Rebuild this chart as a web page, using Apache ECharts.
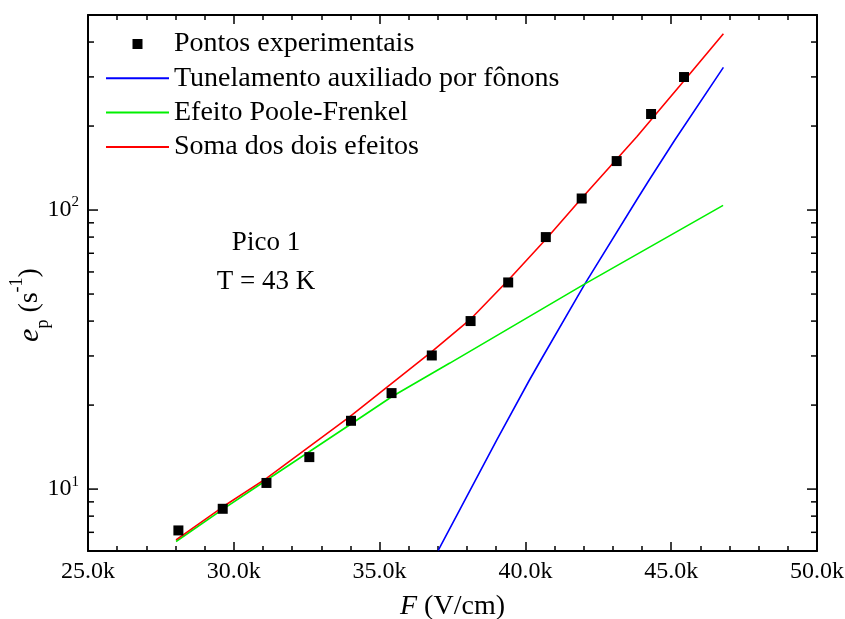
<!DOCTYPE html>
<html>
<head>
<meta charset="utf-8">
<script src="https://cdn.jsdelivr.net/npm/echarts@6/dist/echarts.min.js"></script>
<style>
html, body { margin: 0; padding: 0; background: #fff; }
#chart { width: 845px; height: 619px; }
</style>
</head>
<body>
<div id="chart"></div>
<script>
// pontos experimentais (F em V/cm, e_p em s^-1)
var expF = [28100, 29620, 31120, 32590, 34020, 35410, 36790, 38120, 39410, 40700, 41930, 43130, 44310, 45440];
var expE = [7.11, 8.50, 10.52, 13.02, 17.57, 22.08, 30.12, 40.01, 55.02, 80.0, 110.0, 149.8, 220.9, 299.7];

// tunelamento auxiliado por fonons
var tunF = [37010, 39020, 40130, 40560, 42040, 43820, 44250, 45130, 46790];
var tunE = [6.03, 15.02, 24.5, 29.38, 54.4, 108.9, 128.4, 178.6, 324.4];

// efeito Poole-Frenkel
var pfF = [28020, 29630, 31140, 33980, 35430, 37410, 42040, 46780];
var pfE = [6.49, 8.48, 10.80, 17.0, 21.47, 28.29, 54.4, 103.9];

// soma dos dois efeitos
var sumF = [28020, 29640, 31130, 33980, 36790, 38100, 39410, 40710, 41930, 43820, 45470, 46790];
var sumE = [6.58, 8.66, 10.95, 18.20, 31.12, 40.45, 56.0, 78.7, 110.2, 183.0, 293.0, 428.5];

// eixos
var xTickValues = [25000, 30000, 35000, 40000, 45000, 50000];
var xTickLabels = ['25.0k', '30.0k', '35.0k', '40.0k', '45.0k', '50.0k'];
var yMajorTicks = [10, 100];
var yMajorLabels = ['1', '2'];
var yMinorTicks = [7, 8, 9, 20, 30, 40, 50, 60, 70, 80, 90, 200, 300, 400];

var serif = "'Liberation Serif', 'Times New Roman', serif";

function zip(a, b) {
    return a.map(function (v, i) { return [v, b[i]]; });
}

// marcas do eixo y (esquerda e direita, para dentro)
function tickRenderer(len) {
    return function (params, api) {
        var cs = params.coordSys;
        var y = api.coord([api.value(0), api.value(1)])[1];
        var st = { stroke: '#000', lineWidth: 1.5 };
        return {
            type: 'group',
            children: [
                { type: 'line', shape: { x1: cs.x, y1: y, x2: cs.x + len, y2: y }, style: st },
                { type: 'line', shape: { x1: cs.x + cs.width, y1: y, x2: cs.x + cs.width - len, y2: y }, style: st }
            ]
        };
    };
}

var chart = echarts.init(document.getElementById('chart'));

var xAxisBase = {
    type: 'value',
    min: 25000,
    max: 50000,
    interval: 5000,
    axisLine: { lineStyle: { color: '#000', width: 2 } },
    axisTick: { inside: true, length: 9, lineStyle: { color: '#000', width: 1.5 } },
    minorTick: { show: true, splitNumber: 5, length: 5, lineStyle: { color: '#000', width: 1.5 } },
    splitLine: { show: false }
};

var noSymbol = { opacity: 0 };

chart.setOption({
    animation: false,
    backgroundColor: '#fff',
    grid: { left: 88, right: 28, top: 15, bottom: 68, containLabel: false, outerBoundsMode: 'none' },
    legend: {
        orient: 'vertical',
        left: 105,
        top: 30,
        padding: 0,
        itemWidth: 63,
        itemHeight: 10,
        itemGap: 6.3,
        textStyle: { fontFamily: serif, fontSize: 28, color: '#000' },
        data: [
            { name: 'Pontos experimentais', icon: 'path://M0,0H10V10H0Z' },
            { name: 'Tunelamento auxiliado por fônons', itemStyle: noSymbol },
            { name: 'Efeito Poole-Frenkel', itemStyle: noSymbol },
            { name: 'Soma dos dois efeitos', itemStyle: noSymbol }
        ]
    },
    xAxis: [
        Object.assign({}, xAxisBase, {
            position: 'bottom',
            name: '{i|F} (V/cm)',
            nameLocation: 'middle',
            nameGap: 42,
            nameTextStyle: {
                fontFamily: serif, fontSize: 28, color: '#000',
                rich: { i: { fontFamily: serif, fontSize: 28, fontStyle: 'italic', color: '#000' } }
            },
            axisLabel: {
                margin: 9,
                fontFamily: serif,
                fontSize: 24,
                color: '#000',
                formatter: function (v) {
                    var i = xTickValues.indexOf(v);
                    return i >= 0 ? xTickLabels[i] : '';
                }
            }
        }),
        Object.assign({}, xAxisBase, {
            position: 'top',
            axisLabel: { show: false }
        })
    ],
    yAxis: [
        {
            type: 'log',
            logBase: 10,
            min: 6,
            max: 500,
            position: 'left',
            axisLine: { lineStyle: { color: '#000', width: 2 } },
            axisTick: { show: false },
            splitLine: { show: false },
            axisLabel: {
                margin: 9,
                formatter: function (v) {
                    var i = yMajorTicks.indexOf(v);
                    return i >= 0 ? '{b|10}{s|' + yMajorLabels[i] + '}' : '';
                },
                rich: {
                    b: { fontFamily: serif, fontSize: 24, color: '#000', lineHeight: 30 },
                    s: { fontFamily: serif, fontSize: 15, color: '#000', lineHeight: 15, verticalAlign: 'top' }
                }
            }
        },
        {
            type: 'log',
            logBase: 10,
            min: 6,
            max: 500,
            position: 'right',
            axisLine: { lineStyle: { color: '#000', width: 2 } },
            axisTick: { show: false },
            axisLabel: { show: false },
            splitLine: { show: false }
        }
    ],
    graphic: [
        {
            type: 'text',
            x: 30,
            y: 305,
            rotation: Math.PI / 2,
            style: {
                text: '{i|e}{sub|p} (s{sup|-1})',
                align: 'center',
                verticalAlign: 'middle',
                fill: '#000',
                rich: {
                    i: { fontFamily: serif, fontSize: 30, fontStyle: 'italic', lineHeight: 44, fill: '#000' },
                    sub: { fontFamily: serif, fontSize: 18, lineHeight: 18, verticalAlign: 'bottom', fill: '#000' },
                    sup: { fontFamily: serif, fontSize: 18, lineHeight: 18, verticalAlign: 'top', fill: '#000' }
                },
                font: '28px ' + serif
            }
        },
        {
            type: 'text',
            x: 266,
            y: 243,
            style: { text: 'Pico 1', font: '27px ' + serif, fill: '#000', align: 'center', verticalAlign: 'middle' }
        },
        {
            type: 'text',
            x: 266,
            y: 282,
            style: { text: 'T = 43 K', font: '27px ' + serif, fill: '#000', align: 'center', verticalAlign: 'middle' }
        }
    ],
    series: [
        {
            name: 'Tunelamento auxiliado por fônons',
            type: 'line',
            symbol: 'none',
            data: zip(tunF, tunE),
            lineStyle: { color: '#0000ff', width: 1.6 },
            itemStyle: { color: '#0000ff' },
            z: 2
        },
        {
            name: 'Efeito Poole-Frenkel',
            type: 'line',
            symbol: 'none',
            data: zip(pfF, pfE),
            lineStyle: { color: '#00f000', width: 1.6 },
            itemStyle: { color: '#00f000' },
            z: 2
        },
        {
            name: 'Soma dos dois efeitos',
            type: 'line',
            symbol: 'none',
            data: zip(sumF, sumE),
            lineStyle: { color: '#ff0000', width: 1.6 },
            itemStyle: { color: '#ff0000' },
            z: 3
        },
        {
            name: 'Pontos experimentais',
            type: 'scatter',
            symbol: 'rect',
            symbolSize: 10,
            data: zip(expF, expE),
            itemStyle: { color: '#000', opacity: 1 },
            z: 5
        },
        {
            name: 'yMajor',
            type: 'custom',
            silent: true,
            renderItem: tickRenderer(10),
            data: yMajorTicks.map(function (v) { return [25000, v]; }),
            z: 6
        },
        {
            name: 'yMinor',
            type: 'custom',
            silent: true,
            renderItem: tickRenderer(6),
            data: yMinorTicks.map(function (v) { return [25000, v]; }),
            z: 6
        }
    ]
});
</script>
</body>
</html>
